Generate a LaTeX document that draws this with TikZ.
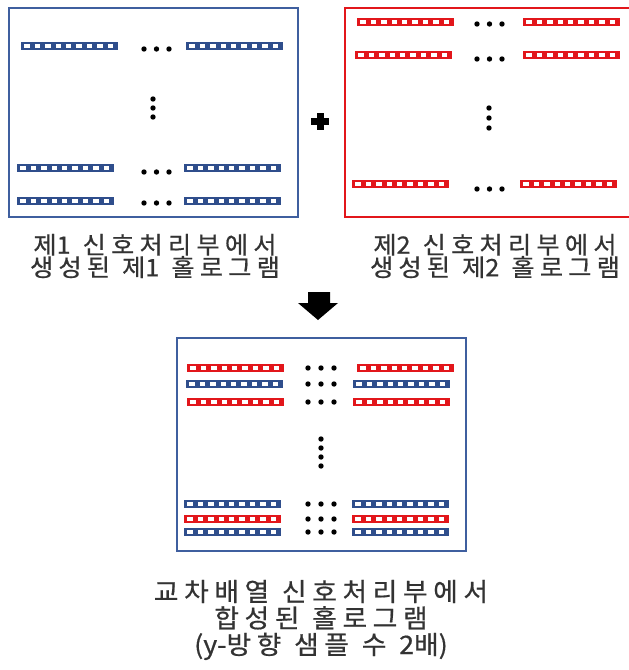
\documentclass[tikz,border=0pt]{standalone}
\usepackage{fontspec}
\newfontfamily\kr[FakeStretch=1.05,LetterSpace=22,WordSpace=1.1,FakeBold=0.6]{Noto Sans CJK KR}
\newfontfamily\krn[FakeStretch=1.05,FakeBold=0.6]{Noto Sans CJK KR}
\newcommand{\ltn}[1]{{\krn #1}}
\definecolor{blueD}{HTML}{2F4E8C}
\definecolor{blueB}{HTML}{3F5F9F}
\definecolor{redD}{HTML}{E2161B}
\tikzset{
  pics/hbar/.style={code={
    \fill[#1] (0,-4.2) rectangle (97,4.2);
    \foreach \i in {0,...,8} \fill[white] (3.4+\i*10.4,-1.8) rectangle ++(5.4,3.6);
  }},
  dot/.style={fill=black,circle,inner sep=0pt,minimum size=5.4pt},
  caption/.style={font=\kr\fontsize{24}{22.5}\selectfont,align=center,text=black!80},
  captionb/.style={font=\kr\fontsize{25.5}{26.5}\selectfont,align=center,text=black!80},
  framebox/.style={line width=2pt}
}
\begin{document}
\begin{tikzpicture}[x=1pt,y=-1pt]
\useasboundingbox (0,0) rectangle (629,670);
\fill[white] (0,0) rectangle (629,670);
% Box 1 (blue)
\draw[framebox,blueB] (9,8) rectangle (298,217);
\pic at (21,46) {hbar=blueD};
\pic at (186,46) {hbar=blueD};
\pic at (17,168) {hbar=blueD};
\pic at (184,168) {hbar=blueD};
\pic at (17,201) {hbar=blueD};
\pic at (184,201) {hbar=blueD};
\foreach \y in {49,172,203} \foreach \x in {144,156.5,169} \node[dot] at (\x,\y) {};
\foreach \y in {99,108,117} \node[dot] at (153,\y) {};
% Box 2 (red)
\draw[framebox,redD] (345,8) rectangle (635,217);
\pic at (357,22) {hbar=redD};
\pic at (523,22) {hbar=redD};
\pic at (355,55) {hbar=redD};
\pic at (523,55) {hbar=redD};
\pic at (352,184) {hbar=redD};
\pic at (520,184) {hbar=redD};
\foreach \y in {24,59,189} \foreach \x in {477,489.5,502} \node[dot] at (\x,\y) {};
\foreach \y in {108,118,128} \node[dot] at (489,\y) {};
% plus
\fill[black] (311,118) rectangle (329,125);
\fill[black] (316.5,113) rectangle (323.5,130);
% captions
\node[caption] (c1) at (155,256) {제\ltn{1} 신호처리부에서\\생성된 제\ltn{1} 홀로그램};
\node[caption] (c2) at (495,256) {제\ltn{2} 신호처리부에서\\생성된 제\ltn{2} 홀로그램};
% down arrow
\fill[black] (308,292) -- (330,292) -- (330,303) -- (338,303) -- (318,320) -- (298,303) -- (308,303) -- cycle;
% Box 3
\draw[framebox,blueB] (177,338) rectangle (466,551);
\pic at (187,368) {hbar=redD};
\pic at (357,368) {hbar=redD};
\pic at (186,384) {hbar=blueD};
\pic at (353,384) {hbar=blueD};
\pic at (187,402) {hbar=redD};
\pic at (353,402) {hbar=redD};
\pic at (184,504) {hbar=blueD};
\pic at (352,504) {hbar=blueD};
\pic at (184,519) {hbar=redD};
\pic at (352,519) {hbar=redD};
\pic at (184,532) {hbar=blueD};
\pic at (352,532) {hbar=blueD};
\foreach \y in {368,384,402,504,519,532} \foreach \x in {308,321,334} \node[dot] at (\x,\y) {};
\foreach \y in {439,448,457,466} \node[dot] at (321,\y) {};
\node[captionb] (c3) at (321,620) {교차배열 신호처리부에서\\합성된 홀로그램\\\ltn{(y-}방향 샘플 수 \ltn{2}배\ltn{)}};
\end{tikzpicture}
\end{document}
